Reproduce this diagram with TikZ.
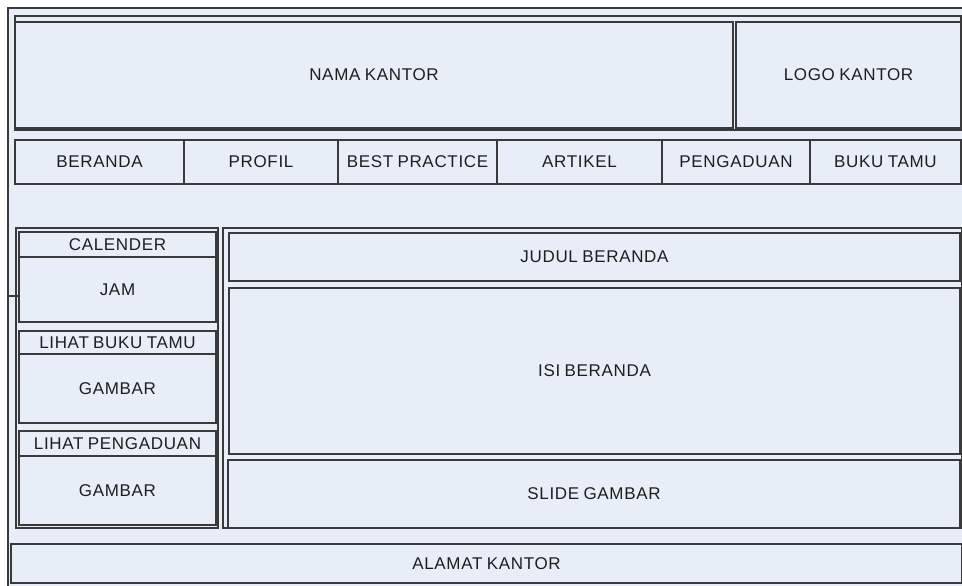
\documentclass[tikz,border=0pt]{standalone}
\usepackage{fontspec}
\setmainfont{Liberation Sans}[LetterSpace=4, WordSpace=0.8]
\usepackage{tikz}
\usetikzlibrary{calc}
\definecolor{wfblue}{RGB}{232,238,247}
\definecolor{wfline}{RGB}{58,58,58}
\definecolor{wftext}{RGB}{30,30,30}
\tikzset{
  wbox/.style 2 args={draw=wfline, fill=wfblue, line width=1.1pt, text=wftext,
                      minimum width=#1, minimum height=#2, inner sep=0pt,
                      font=\fontsize{17}{20}\selectfont},
  wgroup/.style 2 args={draw=wfline, fill=wfblue, line width=1.1pt,
                        minimum width=#1, minimum height=#2, inner sep=0pt},
}

\begin{document}
\begin{tikzpicture}[x=1pt, y=-1pt]
  \useasboundingbox (0,0) rectangle (962,586);
  \fill[white] (0,0) rectangle (962,586);
  % Page frame
  \begin{scope}
    \clip (0,0) rectangle (962,586);
    \draw[draw=wfline, fill=wfblue, line width=1.1pt] (8,8) rectangle (980,600);
  \end{scope}

  % Header
  \node[wgroup={946pt}{114pt}] (header) at (488,73) {};
  \node[wbox={718pt}{106pt}] (nama) at (374,75) {NAMA KANTOR};
  \node[wbox={225pt}{106pt}] (logo) at (848.5,75) {LOGO KANTOR};

  % Menu
  \node[wbox={169pt}{44pt}] (beranda) at (99.5,162) {BERANDA};
  \node[wbox={154pt}{44pt}] (profil) at (261,162) {PROFIL};
  \node[wbox={159pt}{44pt}] (best) at (417.5,162) {BEST PRACTICE};
  \node[wbox={165pt}{44pt}] (artikel) at (579.5,162) {ARTIKEL};
  \node[wbox={148pt}{44pt}] (pengaduan) at (736,162) {PENGADUAN};
  \node[wbox={151pt}{44pt}] (bukutamu) at (885.5,162) {BUKU TAMU};

  % Sidebar
  \node[wgroup={202pt}{300pt}] (sidebar) at (117,378) {};
  \node[wbox={197pt}{25pt}] (calender) at (117.5,244.5) {CALENDER};
  \node[wbox={197pt}{65pt}] (jam) at (117.5,289.5) {JAM};
  \node[wbox={197pt}{23pt}] (lihatbuku) at (117.5,342.5) {LIHAT BUKU TAMU};
  \node[wbox={197pt}{69pt}] (gambarbuku) at (117.5,388.5) {GAMBAR};
  \node[wbox={197pt}{25pt}] (lihatpeng) at (117.5,443.5) {LIHAT PENGADUAN};
  \node[wbox={197pt}{69pt}] (gambarpeng) at (117.5,490.5) {GAMBAR};
  \coordinate (tick) at (8,296);
  \draw[wfline, line width=1.1pt] (tick) -- (tick -| jam.west);

  % Content
  \node[wgroup={739pt}{300pt}] (content) at (592.5,378) {};
  \node[wbox={731pt}{48pt}] (judul) at (594.5,257) {JUDUL BERANDA};
  \node[wbox={731pt}{166pt}] (isi) at (594.5,371) {ISI BERANDA};
  \node[wbox={732pt}{68pt}] (slide) at (594,494) {SLIDE GAMBAR};

  % Footer
  \node[wbox={951pt}{39pt}] (alamat) at (486.5,563.5) {ALAMAT KANTOR};
\end{tikzpicture}
\end{document}
